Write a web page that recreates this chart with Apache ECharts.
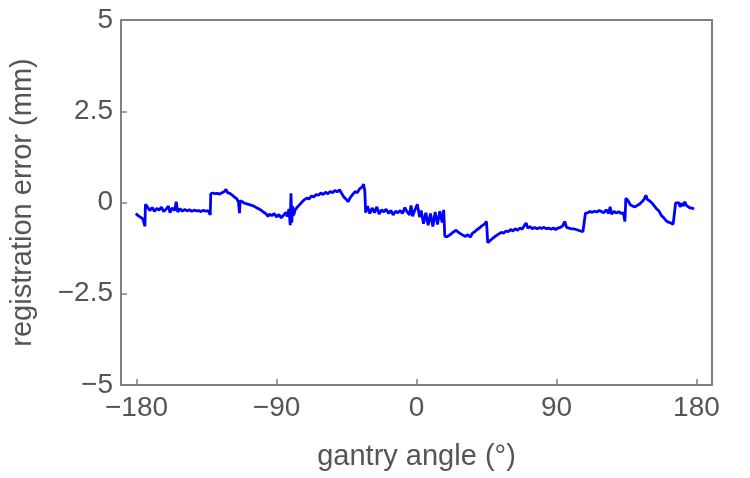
<!DOCTYPE html>
<html>
<head>
<meta charset="utf-8">
<script src="https://cdn.jsdelivr.net/npm/echarts@6/dist/echarts.min.js"></script>
<style>
  html, body { margin: 0; padding: 0; background: #fff; }
  #chart { width: 750px; height: 478px; }
</style>
</head>
<body>
<div id="chart"></div>
<script>
// tick values shown on the axes
const angleTicks = [-180, -90, 0, 90, 180]
const errorTicks = [-5, -2.5, 0, 2.5, 5]

// registration error (mm) against gantry angle (deg)
const registrationError = [
  [-180.5, -0.30], [-179, -0.36], [-177.5, -0.40], [-176, -0.45], [-175, -0.48], [-174.6, -0.65], [-174.3, -0.05],
  [-173, -0.12], [-171.5, -0.22], [-170, -0.14], [-168.5, -0.24], [-167, -0.16], [-165.5, -0.21], [-164, -0.13],
  [-162.5, -0.25], [-161, -0.18], [-159.5, -0.10], [-158.5, -0.28], [-157, -0.15], [-155.5, -0.22], [-154.5, 0.02],
  [-153.5, -0.26], [-152, -0.17], [-150.5, -0.24], [-149, -0.19], [-147.5, -0.23], [-146, -0.20], [-144.5, -0.24],
  [-143, -0.21], [-141.5, -0.23], [-140, -0.22], [-138.5, -0.25], [-137, -0.21], [-135.5, -0.24], [-134, -0.22],
  [-133, -0.26], [-132.6, -0.34], [-132.3, 0.24],
  [-131, 0.26], [-129.5, 0.24], [-128, 0.25], [-126.5, 0.23], [-125, 0.27], [-123.5, 0.30], [-122.5, 0.36],
  [-121.5, 0.27], [-120, 0.25], [-118.5, 0.20], [-117, 0.15], [-115.5, 0.10], [-114.5, 0.02], [-113.8, -0.29], [-113.4, 0.05],
  [-112, 0.02], [-110.5, -0.02], [-109, -0.04], [-107.5, -0.06], [-106, -0.08], [-104.5, -0.10], [-103, -0.14],
  [-101.5, -0.17], [-100, -0.21], [-98.5, -0.26], [-97, -0.30], [-95.5, -0.38], [-94.5, -0.32],
  [-93, -0.36], [-91.5, -0.30], [-90, -0.40], [-88.5, -0.33], [-87, -0.42], [-85.5, -0.35], [-84, -0.27],
  [-83, -0.38], [-82, -0.18], [-81.2, -0.62], [-80.7, 0.25], [-80.2, -0.55], [-79.6, -0.10], [-79, -0.35],
  [-78, -0.20], [-76.5, -0.12], [-75, -0.05], [-73.5, 0.02], [-72, 0.08], [-70.5, 0.12], [-69, 0.10], [-67.5, 0.18],
  [-66, 0.15], [-64.5, 0.22], [-63, 0.20], [-61.5, 0.26], [-60, 0.22], [-58.5, 0.28], [-57, 0.24], [-55.5, 0.30],
  [-54, 0.27], [-52.5, 0.33], [-51, 0.29], [-49.5, 0.35], [-48, 0.24], [-46.5, 0.14], [-45, 0.08], [-44, 0.02],
  [-42.5, 0.14], [-41, 0.22], [-39.5, 0.30], [-38, 0.27], [-36.5, 0.38], [-35, 0.42], [-34, 0.50], [-33.2, 0.30], [-32.7, -0.28],
  [-31.5, -0.10], [-30, -0.30], [-28.5, -0.15], [-27, -0.28], [-25.5, -0.12], [-24, -0.32], [-22.5, -0.20],
  [-21, -0.26], [-19.5, -0.18], [-18, -0.30], [-16.5, -0.22], [-15, -0.34], [-13.5, -0.24], [-12, -0.28],
  [-10.5, -0.22], [-9, -0.30], [-7.5, -0.14], [-6, -0.26], [-4.5, -0.34], [-3.5, -0.08], [-2.5, -0.38], [-1, -0.20],
  [0.5, -0.05], [2, -0.40], [3, -0.22], [4.5, -0.58], [6, -0.28], [7.5, -0.62], [9, -0.30], [10.5, -0.66],
  [12, -0.26], [13.5, -0.60], [15, -0.24], [16.5, -0.55], [17.5, -0.20], [18.2, -0.92],
  [19.5, -0.94], [21, -0.90], [22.5, -0.85], [24, -0.80], [25.5, -0.76], [27, -0.82], [28.5, -0.86], [30, -0.90],
  [31.5, -0.93], [33, -0.88], [34.5, -0.95], [36, -0.84], [37.5, -0.80], [39, -0.74], [40.5, -0.70], [42, -0.64],
  [43.5, -0.60], [45, -0.52], [45.8, -1.10],
  [47, -1.06], [48.5, -1.00], [50, -0.95], [51.5, -0.90], [53, -0.86], [54.5, -0.82], [56, -0.84], [57.5, -0.78],
  [59, -0.80], [60.5, -0.74], [62, -0.78], [63.5, -0.72], [65, -0.76], [66.5, -0.70], [68, -0.73], [69.5, -0.62],
  [70.5, -0.56], [71.5, -0.70], [73, -0.66], [74.5, -0.72], [76, -0.68], [77.5, -0.72], [79, -0.69], [80.5, -0.71],
  [82, -0.68], [83.5, -0.72], [85, -0.70], [86.5, -0.73], [88, -0.70], [89.5, -0.74], [91, -0.70], [92.5, -0.68],
  [94, -0.64], [95.3, -0.52], [96.5, -0.68], [98, -0.70], [99.5, -0.72], [101, -0.72], [102.5, -0.74], [104, -0.76],
  [105.5, -0.78], [107, -0.80], [108.2, -0.84], [108.6, -0.30],
  [110, -0.28], [111.5, -0.25], [113, -0.27], [114.5, -0.24], [116, -0.26], [117.5, -0.22], [119, -0.25],
  [120.5, -0.28], [122, -0.20], [123.5, -0.30], [124.5, -0.12], [125.5, -0.32], [127, -0.24], [128.5, -0.29],
  [130, -0.25], [131.5, -0.30], [133, -0.28], [134, -0.52], [134.6, 0.12],
  [136, 0.05], [137.5, -0.06], [139, -0.10], [140.5, -0.12], [142, -0.08], [143.5, -0.04], [145, 0.02], [146.5, 0.10],
  [147.5, 0.20], [148.5, 0.08], [150, 0.04], [151.5, -0.02], [153, -0.10], [154.5, -0.18], [156, -0.24], [157.5, -0.36],
  [159, -0.42], [160.5, -0.50], [162, -0.54], [163.5, -0.56], [165, -0.60], [166, -0.63], [166.6, -0.02],
  [167.5, -0.06], [168.5, 0.00], [169.5, -0.12], [170.5, -0.02], [171.5, -0.10], [172.5, 0.02], [173.5, -0.08],
  [174.5, -0.04], [175.5, -0.14], [176.5, -0.10], [177.5, -0.16], [178.5, -0.18]
]

const textColor = '#555'
const frameColor = '#808080'
const fontFamily = '"Liberation Sans", Arial, sans-serif'
const minus = (v) => String(v).replace('-', '\u2212')

const myChart = echarts.init(document.getElementById('chart'))

const option = {
  animation: false,
  grid: {
    left: 120,
    right: 38,
    top: 20,
    bottom: 93,
    show: true,
    borderColor: frameColor,
    borderWidth: 2
  },
  xAxis: {
    type: 'value',
    min: -190,
    max: 190,
    name: 'gantry angle (°)',
    nameLocation: 'middle',
    nameGap: 57,
    nameTextStyle: { color: textColor, fontSize: 29, fontFamily: fontFamily },
    axisLine: { show: false, onZero: false },
    splitLine: { show: false },
    axisTick: {
      inside: true,
      length: 6,
      customValues: angleTicks,
      lineStyle: { color: frameColor, width: 1.5 }
    },
    axisLabel: {
      customValues: angleTicks,
      margin: 9,
      color: textColor,
      fontSize: 28,
      fontFamily: fontFamily,
      formatter: minus
    }
  },
  yAxis: {
    type: 'value',
    min: -5,
    max: 5,
    name: 'registration error (mm)',
    nameLocation: 'middle',
    nameGap: 84,
    nameTextStyle: { color: textColor, fontSize: 29, fontFamily: fontFamily },
    axisLine: { show: false, onZero: false },
    splitLine: { show: false },
    axisTick: {
      inside: true,
      length: 6,
      customValues: errorTicks,
      lineStyle: { color: frameColor, width: 1.5 }
    },
    axisLabel: {
      customValues: errorTicks,
      margin: 8,
      color: textColor,
      fontSize: 28,
      fontFamily: fontFamily,
      formatter: minus
    }
  },
  series: [
    {
      name: 'registration error',
      type: 'line',
      data: registrationError,
      showSymbol: false,
      lineStyle: { color: '#0000ff', width: 2.8 }
    }
  ]
}

myChart.setOption(option)
window.onresize = function () {
  myChart.resize()
}
</script>
</body>
</html>
